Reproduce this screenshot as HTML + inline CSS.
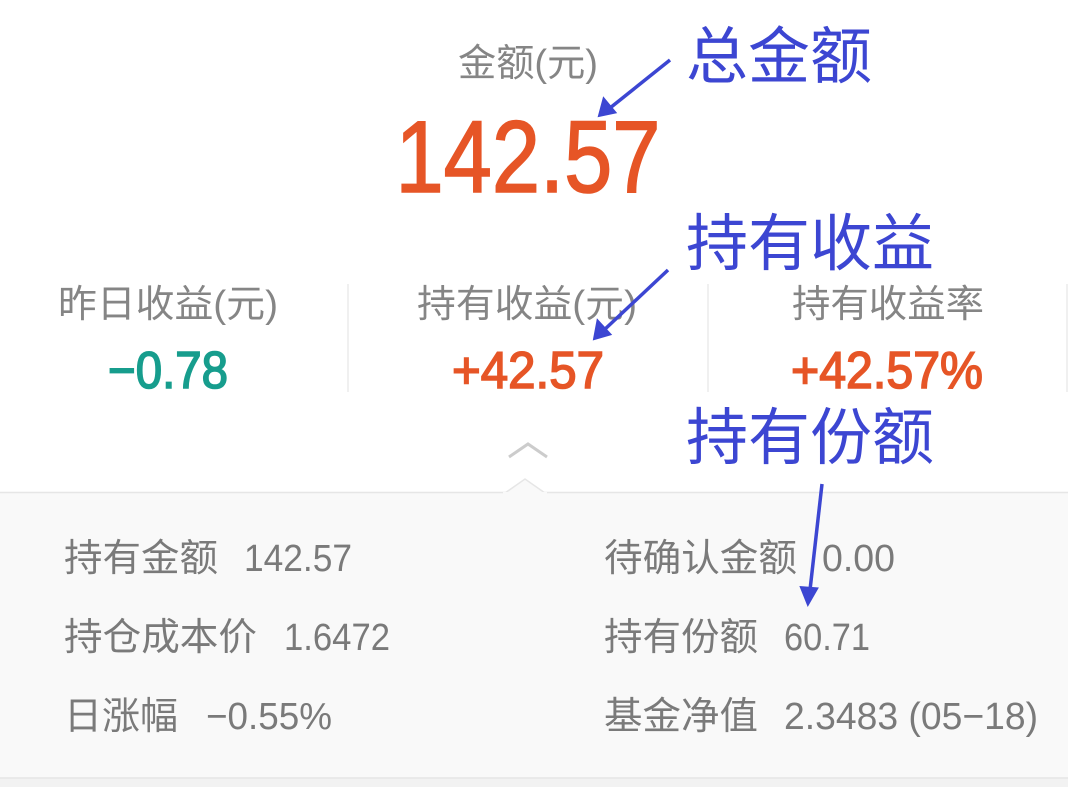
<!DOCTYPE html>
<html><head><meta charset="utf-8"><style>
html,body{margin:0;padding:0;background:#fff;}
svg{display:block;}
.cjk{font-family:"Liberation Sans","Noto Sans CJK SC",sans-serif;}
.ann{font-family:"Liberation Sans","Noto Sans CJK SC",sans-serif;font-size:62px;font-weight:normal;fill:#3c46d2;stroke:#fff;stroke-width:6px;paint-order:stroke;}
.ann2{font-family:"Liberation Sans","Noto Sans CJK SC",sans-serif;font-size:62px;fill:#3c46d2;stroke:#3c46d2;stroke-width:1px;}
.num{font-family:"Liberation Sans",sans-serif;stroke-width:1.6px;}
</style></head><body>
<svg width="1068" height="787" viewBox="0 0 1068 787" xmlns="http://www.w3.org/2000/svg">
<rect x="0" y="0" width="1068" height="787" fill="#fff"/>
<rect x="0" y="492" width="1068" height="287" fill="#f9f9f9"/>
<line x1="0" y1="492.5" x2="1068" y2="492.5" stroke="#e6e6e6" stroke-width="1.5"/>
<path d="M505 493 L525 479 L545 493 Z" fill="#f9f9f9" stroke="#e6e6e6" stroke-width="1.5"/>
<line x1="503" y1="493" x2="547" y2="493" stroke="#f9f9f9" stroke-width="2"/>
<rect x="0" y="778" width="1068" height="9" fill="#f2f2f2"/>
<line x1="0" y1="778" x2="1068" y2="778" stroke="#e6e6e6" stroke-width="1.5"/>

<text class="cjk" x="528" y="76" font-size="38" fill="#858585" text-anchor="middle" textLength="140" lengthAdjust="spacingAndGlyphs">金额(元)</text>
<text class="num" x="528" y="192" font-size="102" fill="#e65526" stroke="#e65526" stroke-width="3" text-anchor="middle" textLength="265" lengthAdjust="spacingAndGlyphs">142.57</text>

<line x1="348" y1="284" x2="348" y2="392" stroke="#ebebeb" stroke-width="1.5"/>
<line x1="708" y1="284" x2="708" y2="392" stroke="#ebebeb" stroke-width="1.5"/>
<line x1="1067" y1="284" x2="1067" y2="392" stroke="#ebebeb" stroke-width="1.5"/>

<text class="cjk" x="168" y="317" font-size="38" fill="#858585" text-anchor="middle" textLength="220" lengthAdjust="spacingAndGlyphs">昨日收益(元)</text>
<text class="cjk" x="527" y="317" font-size="38" fill="#858585" text-anchor="middle" textLength="220" lengthAdjust="spacingAndGlyphs">持有收益(元)</text>
<text class="cjk" x="888" y="317" font-size="38" fill="#858585" text-anchor="middle" textLength="192" lengthAdjust="spacingAndGlyphs">持有收益率</text>

<text class="num" x="168" y="388" font-size="52" fill="#179d8d" stroke="#179d8d" text-anchor="middle" textLength="120" lengthAdjust="spacingAndGlyphs">−0.78</text>
<text class="num" x="528" y="388" font-size="52" fill="#e65526" stroke="#e65526" text-anchor="middle" textLength="152" lengthAdjust="spacingAndGlyphs">+42.57</text>
<text class="num" x="887" y="388" font-size="52" fill="#e65526" stroke="#e65526" text-anchor="middle" textLength="192" lengthAdjust="spacingAndGlyphs">+42.57%</text>

<path d="M509 457 L528 444 L547 457" fill="none" stroke="#cccccc" stroke-width="3"/>

<g class="cjk" font-size="38" fill="#7a7a7a">
<text x="64" y="571" textLength="154" lengthAdjust="spacingAndGlyphs">持有金额</text>
<text x="244" y="571" textLength="108" lengthAdjust="spacingAndGlyphs">142.57</text>
<text x="64" y="650" textLength="193" lengthAdjust="spacingAndGlyphs">持仓成本价</text>
<text x="284" y="650" textLength="106" lengthAdjust="spacingAndGlyphs">1.6472</text>
<text x="64" y="729" textLength="114" lengthAdjust="spacingAndGlyphs">日涨幅</text>
<text x="206" y="729" textLength="126" lengthAdjust="spacingAndGlyphs">−0.55%</text>
<text x="604" y="571" textLength="193" lengthAdjust="spacingAndGlyphs">待确认金额</text>
<text x="822" y="571" textLength="73" lengthAdjust="spacingAndGlyphs">0.00</text>
<text x="604" y="650" textLength="154" lengthAdjust="spacingAndGlyphs">持有份额</text>
<text x="784" y="650" textLength="86" lengthAdjust="spacingAndGlyphs">60.71</text>
<text x="604" y="729" textLength="154" lengthAdjust="spacingAndGlyphs">基金净值</text>
<text x="784" y="729" textLength="254" lengthAdjust="spacingAndGlyphs">2.3483 (05−18)</text>
</g>

<text class="ann" x="686" y="78" textLength="186" lengthAdjust="spacingAndGlyphs">总金额</text>
<text class="ann" x="686" y="265" textLength="248" lengthAdjust="spacingAndGlyphs">持有收益</text>
<text class="ann" x="686" y="459" textLength="248" lengthAdjust="spacingAndGlyphs">持有份额</text>
<g stroke="#3c46d2" stroke-width="3.5" fill="#3c46d2">
<line x1="670" y1="60" x2="610" y2="108"/>
<path d="M600 115 L604 100 L614 112 Z"/>
<line x1="668" y1="270" x2="603" y2="331"/>
<path d="M595 338 L598 322 L609 334 Z"/>
<line x1="822" y1="484" x2="810" y2="590"/>
<path d="M808 603 L802 588 L816 589 Z"/>
</g>
</svg>
</body></html>
